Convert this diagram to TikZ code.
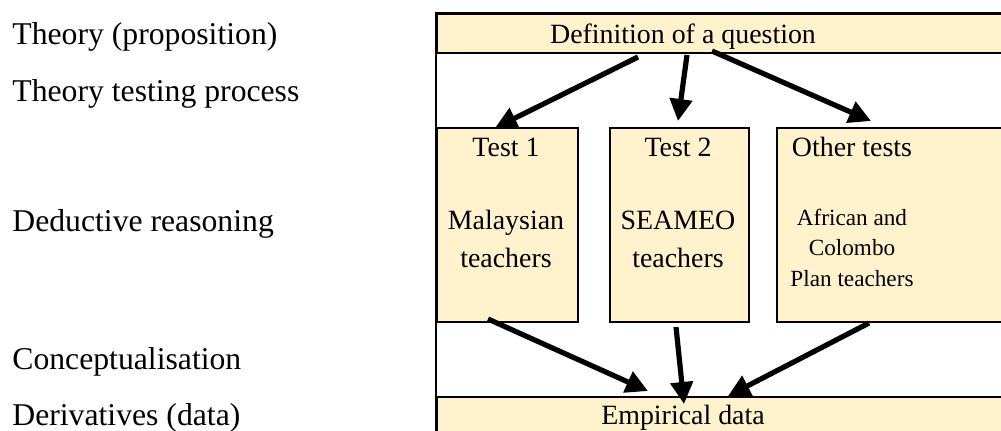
\documentclass[tikz,border=0pt]{standalone}
\usepackage{fontspec}
\setmainfont{Liberation Serif}
\usetikzlibrary{arrows.meta}
\definecolor{cream}{HTML}{FFF2CC}
\begin{document}
\begin{tikzpicture}[x=0.5pt,y=-0.5pt,
  box/.style={draw=black,line width=0.8pt,fill=cream,inner sep=0pt,anchor=north west},
  lbl/.style={anchor=base west,inner sep=0pt,font=\fontsize{15.85}{19}\selectfont},
  txt/.style={anchor=base,inner sep=0pt,align=center,font=\fontsize{13.95}{19}\selectfont},
  small/.style={anchor=base,inner sep=0pt,align=center,font=\fontsize{11.6}{15.25}\selectfont},
  arr/.style={line width=2.6pt,-{Triangle[length=11pt,width=11pt]}}]
\clip (0,0) rectangle (1001,430);
% outer frame
\draw[line width=0.8pt] (436,13) rectangle (1030,460);
% boxes
\node[box,minimum width=297pt,minimum height=19.5pt] (def) at (436,13) {};
\node[box,minimum width=70.5pt,minimum height=97pt] (t1) at (436,127) {};
\node[box,minimum width=69.5pt,minimum height=97pt] (t2) at (609,127) {};
\node[box,minimum width=127pt,minimum height=97pt] (t3) at (776,127) {};
\node[box,minimum width=297pt,minimum height=40pt] (emp) at (436,396) {};
% box texts (base = baseline of last line)
\node[txt] (deftxt) at (683,43) {Definition of a question};
\node[txt] (t1a) at (506,156) {Test 1};
\node[txt] (t1b) at (506,267) {Malaysian\\teachers};
\node[txt] (t2a) at (678,156) {Test 2};
\node[txt] (t2b) at (678,267) {SEAMEO\\teachers};
\node[txt] (t3a) at (852,156) {Other tests};
\node[small] (t3b) at (852,286) {African and\\Colombo\\Plan teachers};
\node[txt] (emptxt) at (683,424) {Empirical data};
% left labels
\node[lbl] (l1) at (12,44) {Theory (proposition)};
\node[lbl] (l2) at (12,101) {Theory testing process};
\node[lbl] (l3) at (12,231) {Deductive reasoning};
\node[lbl] (l4) at (12,369) {Conceptualisation};
\node[lbl] (l5) at (12,425) {Derivatives (data)};
% arrow end points
\coordinate (a1s) at (638,57);  \coordinate (a1e) at (495,128);
\coordinate (a2s) at (687,55);  \coordinate (a2e) at (678,121);
\coordinate (a3s) at (712,51);  \coordinate (a3e) at (871,121);
\coordinate (b1s) at (488,319); \coordinate (b1e) at (648,391);
\coordinate (b2s) at (676,327); \coordinate (b2e) at (684,404);
\coordinate (b3s) at (869,323); \coordinate (b3e) at (728,396);
\draw[arr] (a1s) -- (a1e);
\draw[arr] (a2s) -- (a2e);
\draw[arr] (a3s) -- (a3e);
\draw[arr] (b1s) -- (b1e);
\draw[arr] (b2s) -- (b2e);
\draw[arr] (b3s) -- (b3e);
\end{tikzpicture}
\end{document}
